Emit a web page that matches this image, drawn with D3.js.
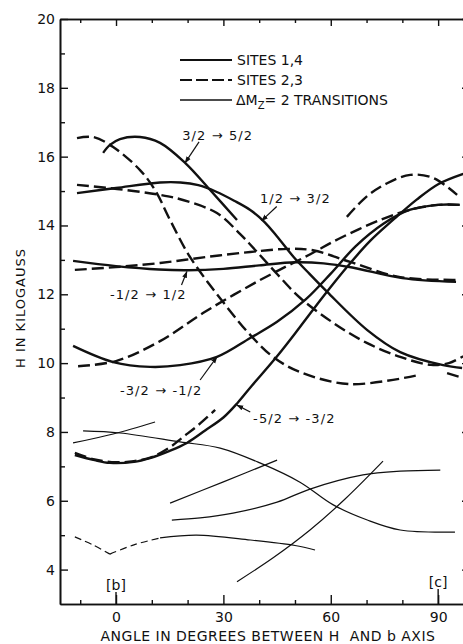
<!DOCTYPE html>
<html>
<head>
<meta charset="utf-8">
<script src="https://cdn.jsdelivr.net/npm/d3@7"></script>
<style>
    body { margin: 0; background: #fff; }
    svg { display: block; }
    text { font-family: "DejaVu Sans", sans-serif; fill: #111; }
</style>
</head>
<body>
<div id="chart"></div>
<script>
    // axis ticks
    var angleMajor = [0, 30, 60, 90];
    var angleMinor = [-10, 10, 20, 40, 50, 70, 80];
    var fieldMajor = [4, 6, 8, 10, 12, 14, 16, 18, 20];
    var fieldMinor = [5, 7, 9, 11, 13, 15, 17, 19];

    // [angle in degrees, H in kilogauss]
    // sites 1,4 (solid) and sites 2,3 (dashed)
    var t32to52Solid = [[-3.6, 16.11], [-1.7, 16.34], [1.1, 16.51], [6.7, 16.57], [12.3, 16.40], [19.3, 15.82], [26.3, 15.03], [33.8, 14.16]];
    var t32to52Dashed = [[-10.9, 16.54], [-6.4, 16.57], [-0.8, 16.28], [6.7, 15.61], [10.9, 15.03], [15.1, 14.16], [20.7, 13.08], [31.0, 11.63], [37.5, 10.82], [43.9, 10.18], [51.4, 9.74], [65.4, 9.39], [84.4, 9.65]];
    var t32to52DashedEnd = [[92.5, 9.71], [97, 9.57]];
    var t12to32Solid = [[-10.9, 14.94], [0, 15.09], [12.3, 15.25], [18, 15.25], [23, 15.17], [28, 14.98], [33, 14.72], [37.5, 14.45], [41.5, 14.1], [45, 13.68], [49.5, 13.1], [54, 12.6], [59, 12.07], [70.2, 10.96], [79.4, 10.32], [91.4, 9.94], [96.7, 9.86]];
    var t12to32Dashed = [[-10.9, 15.18], [0.3, 15.06], [12.3, 14.89], [18.7, 14.74], [28.2, 14.36], [34.7, 13.75], [39.4, 13.23], [45, 12.59], [51.4, 11.9], [60.7, 11.17], [70.2, 10.58], [79.4, 10.18], [88, 9.95], [93, 10.0], [97, 10.2]];
    var tm12to12Solid = [[-12, 12.97], [0, 12.82], [12, 12.72], [20, 12.70], [30, 12.74], [40, 12.84], [50, 12.93], [58, 12.9], [66, 12.78], [80, 12.47], [95, 12.36]];
    var tm12to12Dashed = [[-11.5, 12.71], [0, 12.79], [12.3, 12.91], [25, 13.08], [37.5, 13.23], [48, 13.32], [55, 13.28], [65.4, 12.94], [79.4, 12.5], [95, 12.42]];
    var tm32tom12Solid = [[-12, 10.50], [-0.8, 10.03], [9.5, 9.89], [17.9, 9.94], [28.2, 10.18], [37.5, 10.73], [45, 11.2], [53, 11.85], [60, 12.6], [67, 13.4], [74.7, 14.05], [82, 14.45], [90, 14.6], [96, 14.6]];
    var tm32tom12Dashed = [[-10.6, 9.91], [0, 10.06], [12.3, 10.64], [25, 11.5], [40, 12.4], [54, 13.15], [62, 13.6], [74, 14.17], [82, 14.45], [90, 14.6], [96, 14.6]];
    var tm52tom32Solid = [[-11.5, 7.33], [-6, 7.18], [-1.7, 7.10], [5, 7.13], [9.5, 7.24], [15, 7.45], [19.8, 7.68], [25, 8.05], [30, 8.42], [34, 8.85], [38, 9.35], [45, 10.2], [51.4, 11.05], [58, 11.95], [65, 12.85], [71, 13.55], [77.4, 14.16], [84, 14.75], [90, 15.2], [97, 15.5]];
    var tm52tom32DashedLow = [[-11.5, 7.39], [-6, 7.2], [0, 7.12], [5, 7.15], [10, 7.27], [15, 7.55], [18.7, 7.85], [23, 8.2], [27.7, 8.64]];
    var tm52tom32DashedHigh = [[64.5, 14.25], [70, 14.84], [75.6, 15.22], [82.2, 15.47], [88.6, 15.38], [95.3, 14.89]];

    // delta Mz = 2 transitions (thin)
    var dm2A = [[-12, 7.68], [-0.8, 7.94], [10.9, 8.29]];
    var dm2B = [[-9.2, 8.03], [1.1, 7.97], [17.9, 7.71], [29.1, 7.53], [40.2, 7.10], [51.4, 6.54], [60.7, 5.88], [70.2, 5.44], [79.4, 5.15], [94.7, 5.09]];
    var dm2C = [[15.1, 5.93], [30, 6.55], [45, 7.18]];
    var dm2D = [[15.6, 5.44], [23.5, 5.50], [32.7, 5.64], [45, 5.96], [54.2, 6.34], [69, 6.75], [79.4, 6.86], [90.6, 6.89]];
    var dm2E = [[33.8, 3.65], [44, 4.35], [54.2, 5.15], [64, 6.05], [74.6, 7.15]];
    var dm2LowLeft = [[-11.5, 4.95], [-6.5, 4.72], [-1.7, 4.45]];
    var dm2LowRight = [[-1.7, 4.45], [5, 4.72], [12.3, 4.92]];
    var dm2Low = [[12.3, 4.92], [22.5, 5.0], [37.5, 4.86], [50, 4.7], [55.6, 4.57]];

    // transition labels: text, anchor point [angle, H], arrow tail and tip [angle, H]
    var labelTexts = ["3/2 \u2192 5/2", "1/2 \u2192 3/2", "-1/2 \u2192 1/2", "-3/2 \u2192 -1/2", "-5/2 \u2192 -3/2"];
    var labelAt = [[18.5, 16.48], [40.2, 14.65], [-1.7, 11.86], [1.1, 9.07], [38.3, 8.26]];
    var arrowFrom = [[23.2, 16.43], [44.9, 14.55], [18.3, 12.27], [23.5, 9.51], [37.5, 8.58]];
    var arrowTo = [[19.3, 15.82], [40.7, 14.14], [19.8, 12.66], [28.2, 10.18], [33.8, 8.78]];

    var legendNames = ["SITES 1,4", "SITES 2,3"];

    var width = 463, height = 644;

    var svg = d3.select("#chart")
        .append("svg")
        .attr("width", width)
        .attr("height", height);

    var x = d3.scaleLinear().domain([-15.65, 98.9]).range([60, 470]);
    var y = d3.scaleLinear().domain([3, 20]).range([604, 19]);

    var line = d3.line()
        .x(function (d) { return x(d[0]); })
        .y(function (d) { return y(d[1]); })
        .curve(d3.curveCatmullRom.alpha(0.5));

    var defs = svg.append("defs");
    defs.append("marker")
        .attr("id", "head")
        .attr("viewBox", "0 0 10 10")
        .attr("refX", 9).attr("refY", 5)
        .attr("markerWidth", 7).attr("markerHeight", 7)
        .attr("markerUnits", "userSpaceOnUse")
        .attr("orient", "auto")
        .append("path")
        .attr("d", "M0,1.5 L10,5 L0,8.5 Z")
        .attr("fill", "#111");

    // ---- frame and axes
    function styleAxis(g) {
        g.selectAll("path").attr("stroke", "#111").attr("stroke-width", 1.6);
        g.selectAll("line").attr("stroke", "#111").attr("stroke-width", 1.4);
        g.selectAll("text").attr("font-size", "14px").attr("fill", "#111")
            .style("font-family", "'DejaVu Sans', sans-serif");
    }

    svg.append("g")
        .attr("transform", "translate(60,0)")
        .call(d3.axisLeft(y).tickValues(fieldMajor).tickSizeInner(-8).tickSizeOuter(0).tickPadding(5))
        .call(styleAxis);
    svg.append("g")
        .attr("transform", "translate(60,0)")
        .call(d3.axisLeft(y).tickValues(fieldMinor).tickSizeInner(-5).tickSizeOuter(0).tickFormat(""))
        .call(styleAxis);

    svg.append("g")
        .attr("transform", "translate(470,0)")
        .call(d3.axisRight(y).tickValues(fieldMajor).tickSizeInner(-8).tickSizeOuter(0).tickFormat(""))
        .call(styleAxis);

    svg.append("g")
        .attr("transform", "translate(0,604)")
        .call(d3.axisBottom(x).tickValues(angleMajor).tickSizeInner(-9).tickSizeOuter(0).tickPadding(8))
        .call(styleAxis);
    svg.append("g")
        .attr("transform", "translate(0,604)")
        .call(d3.axisBottom(x).tickValues(angleMinor).tickSizeInner(-4).tickSizeOuter(0).tickFormat(""))
        .call(styleAxis);

    svg.append("g")
        .attr("transform", "translate(0,19)")
        .call(d3.axisTop(x).tickValues(angleMajor).tickSizeInner(-7).tickSizeOuter(0).tickFormat(""))
        .call(styleAxis);
    svg.append("g")
        .attr("transform", "translate(0,19)")
        .call(d3.axisTop(x).tickValues(angleMinor).tickSizeInner(-4).tickSizeOuter(0).tickFormat(""))
        .call(styleAxis);

    // crystal axis markers [b] and [c]
    var axisMarks = [{ a: 0, t: "[b]", top: 592 }, { a: 90, t: "[c]", top: 589 }];
    axisMarks.forEach(function (m) {
        svg.append("line")
            .attr("x1", x(m.a)).attr("x2", x(m.a))
            .attr("y1", m.top).attr("y2", 604)
            .attr("stroke", "#111").attr("stroke-width", 1.4);
        svg.append("text")
            .attr("x", x(m.a)).attr("y", m.top - 2)
            .attr("text-anchor", "middle")
            .attr("font-size", "14px")
            .text(m.t);
    });

    // axis titles
    svg.append("text")
        .attr("x", 268).attr("y", 641)
        .attr("text-anchor", "middle")
        .attr("font-size", "14px")
        .attr("letter-spacing", "0.5px")
        .style("white-space", "pre")
        .text("ANGLE IN DEGREES BETWEEN H  AND b AXIS");

    svg.append("text")
        .attr("transform", "translate(25,308) rotate(-90)")
        .attr("text-anchor", "middle")
        .attr("font-size", "13px")
        .attr("letter-spacing", "1px")
        .text("H IN KILOGAUSS");

    // ---- curves
    var thick = 2.4, thin = 1.2, dash = "12,5";
    var curves = [
        { d: t32to52Solid, w: thick }, { d: t32to52Dashed, w: thick, dash: dash },
        { d: t32to52DashedEnd, w: thick, dash: dash },
        { d: t12to32Solid, w: thick }, { d: t12to32Dashed, w: thick, dash: dash },
        { d: tm12to12Solid, w: thick }, { d: tm12to12Dashed, w: thick, dash: dash },
        { d: tm32tom12Solid, w: thick }, { d: tm32tom12Dashed, w: thick, dash: dash },
        { d: tm52tom32Solid, w: thick }, { d: tm52tom32DashedLow, w: thick, dash: dash },
        { d: tm52tom32DashedHigh, w: thick, dash: dash },
        { d: dm2A, w: thin }, { d: dm2B, w: thin }, { d: dm2C, w: thin },
        { d: dm2D, w: thin }, { d: dm2E, w: thin },
        { d: dm2LowLeft, w: thin, dash: "7,4" }, { d: dm2LowRight, w: thin, dash: "7,4" },
        { d: dm2Low, w: thin }
    ];

    svg.append("g").selectAll("path")
        .data(curves)
        .enter()
        .append("path")
        .attr("d", function (c) { return line(c.d); })
        .attr("fill", "none")
        .attr("stroke", "#111")
        .attr("stroke-width", function (c) { return c.w; })
        .attr("stroke-dasharray", function (c) { return c.dash || null; });

    // ---- transition labels with arrows
    svg.append("g").selectAll("text")
        .data(labelTexts)
        .enter()
        .append("text")
        .attr("x", function (d, i) { return x(labelAt[i][0]); })
        .attr("y", function (d, i) { return y(labelAt[i][1]); })
        .attr("font-size", "13px")
        .attr("letter-spacing", "1.1px")
        .text(function (d) { return d; });

    svg.append("g").selectAll("line")
        .data(arrowFrom)
        .enter()
        .append("line")
        .attr("x1", function (d) { return x(d[0]); })
        .attr("y1", function (d) { return y(d[1]); })
        .attr("x2", function (d, i) { return x(arrowTo[i][0]); })
        .attr("y2", function (d, i) { return y(arrowTo[i][1]); })
        .attr("stroke", "#111")
        .attr("stroke-width", 1.2)
        .attr("marker-end", "url(#head)");

    // ---- legend
    var legendStyles = [{ w: 2.2 }, { w: 2.2, dash: "12,4" }, { w: 1.3 }];
    var legend = svg.append("g");
    legendStyles.forEach(function (s, i) {
        var ly = 60 + i * 20;
        legend.append("line")
            .attr("x1", 180).attr("x2", 232)
            .attr("y1", ly).attr("y2", ly)
            .attr("stroke", "#111")
            .attr("stroke-width", s.w)
            .attr("stroke-dasharray", s.dash || null);
    });
    legendNames.forEach(function (n, i) {
        legend.append("text")
            .attr("x", 237).attr("y", 65 + i * 20)
            .attr("font-size", "14px")
            .text(n);
    });
    var dm = legend.append("text")
        .attr("x", 236).attr("y", 105)
        .attr("font-size", "14px");
    dm.append("tspan").text("\u0394M");
    dm.append("tspan").attr("font-size", "10px").attr("dy", 4).text("Z");
    dm.append("tspan").attr("dy", -4).text("= 2 TRANSITIONS");
</script>
</body>
</html>
